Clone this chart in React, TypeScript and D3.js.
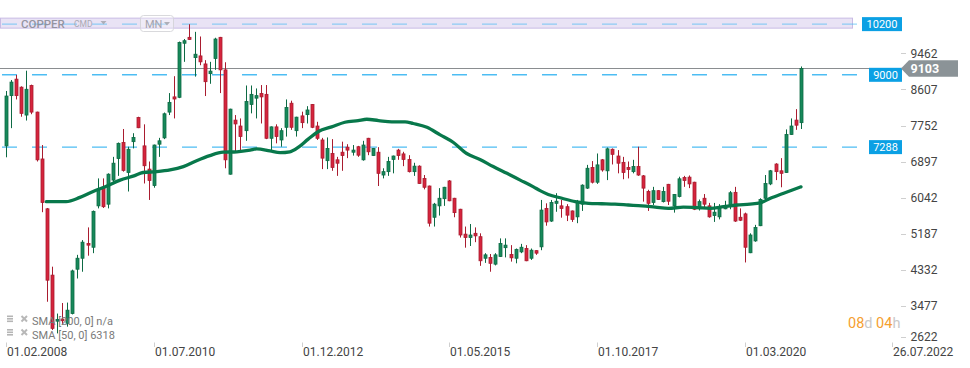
import React from "react";
import * as d3 from "d3";

const W = 970;
const H = 368;

// Monthly candles from Feb 2008 (index 0) to Feb 2021 (index 156)
const startMonth = "2008-02";
const opens = [
  7270, 8460, 8850, 8660, 8000, 8700, 8070, 6960, 5780, 4210,
  3120, 3170, 3070, 3300, 4350, 4610, 4960, 4870, 5850, 6290,
  5890, 6460, 6970, 7350, 6640, 7370, 7940, 7270, 6720, 6330,
  7310, 7460, 8070, 8430, 8420, 9700, 9840, 9360, 9400, 9210,
  8980, 9340, 9840, 9070, 6600, 7880, 7740, 7630, 8250, 8400,
  8510, 8490, 7450, 7720, 7410, 7710, 8280, 7630, 7980, 8010,
  8250, 7740, 7410, 6920, 7090, 6940, 7120, 7240, 7120, 7250,
  6940, 7450, 7040, 7120, 6580, 6660, 6950, 7170, 7080, 6950,
  6660, 6790, 6500, 6320, 5580, 5850, 6020, 6440, 6030, 5770,
  5180, 5100, 5200, 5120, 4610, 4630, 4470, 4650, 4860, 4700,
  4610, 4760, 4840, 4610, 4790, 4880, 5790, 5490, 5910, 5850,
  5830, 5730, 5590, 5890, 6270, 6760, 6410, 6940, 6680, 7190,
  7030, 6880, 6760, 6660, 6780, 6560, 6190, 5930, 6210, 5950,
  6360, 5850, 6070, 6520, 6530, 6410, 5790, 6030, 5850, 5620,
  5590, 5780, 5850, 6170, 5580, 5660, 4740, 5020, 5380, 6030,
  6370, 6840, 6680, 6640, 7540, 7880, 7820,
];
const highs = [
  8570, 8830, 8950, 8680, 9050, 8720, 8080, 7290, 5800, 4410,
  3300, 3550, 3560, 4340, 4690, 5040, 5340, 5740, 6500, 6500,
  6620, 7010, 7350, 7670, 7250, 7570, 7960, 7780, 6900, 7300,
  7460, 8060, 8520, 8920, 9740, 9800, 10150, 9970, 9860, 9300,
  9260, 9830, 9850, 9250, 8150, 8000, 7920, 8700, 8700, 8630,
  8710, 8710, 7730, 7780, 7690, 8370, 8340, 7960, 8080, 8210,
  8260, 7840, 7460, 7470, 7430, 7010, 7370, 7310, 7290, 7270,
  7390, 7460, 7220, 7240, 6740, 7010, 7040, 7200, 7130, 7050,
  6870, 6810, 6580, 6330, 5920, 6270, 6300, 6460, 6040, 5780,
  5360, 5420, 5340, 5200, 4730, 4710, 4730, 5080, 5080, 4920,
  4840, 4950, 4920, 4840, 4800, 5990, 5910, 5990, 6150, 5990,
  5890, 5740, 5990, 6360, 6820, 6910, 7090, 6960, 7230, 7210,
  7170, 7010, 6900, 6940, 7250, 6580, 6230, 6300, 6220, 6300,
  6370, 6130, 6540, 6560, 6570, 6420, 6000, 6130, 5920, 5920,
  5890, 5970, 6200, 6300, 5790, 5690, 5200, 5400, 6030, 6580,
  6700, 6860, 6980, 7660, 7920, 8140, 9150,
];
const lows = [
  7000, 7690, 8370, 7960, 7870, 8020, 6900, 5700, 3580, 2910,
  2830, 3030, 2990, 3280, 4130, 4290, 4670, 4730, 5790, 5800,
  5790, 6380, 6560, 6660, 6190, 7210, 7690, 6380, 5990, 6280,
  7010, 7430, 8000, 7920, 8400, 9260, 9780, 8910, 9180, 8450,
  8740, 9070, 8520, 6740, 6590, 7130, 7120, 7390, 8040, 7920,
  7800, 7430, 7170, 7330, 7250, 7490, 7650, 7490, 7690, 7800,
  7690, 7410, 6720, 6720, 6680, 6560, 6680, 6980, 7040, 7010,
  6920, 7050, 7030, 6320, 6500, 6560, 6620, 6940, 6790, 6640,
  6560, 6370, 6240, 5360, 5360, 5620, 5850, 5960, 5580, 5100,
  4860, 4900, 4990, 4430, 4500, 4290, 4440, 4640, 4630, 4530,
  4490, 4730, 4540, 4570, 4690, 4800, 5380, 5470, 5710, 5570,
  5490, 5470, 5440, 5730, 6250, 6380, 6370, 6660, 6460, 6830,
  6620, 6480, 6500, 6620, 6560, 5950, 5730, 5870, 5990, 5930,
  5870, 5690, 6050, 6300, 6270, 5750, 5740, 5810, 5570, 5470,
  5530, 5770, 5770, 5470, 5490, 4510, 4730, 5000, 5370, 6010,
  6340, 6460, 6290, 6630, 7530, 7650, 7670,
];
const closes = [
  8450, 8780, 8460, 8040, 8610, 8070, 6940, 5930, 4090, 2950,
  3160, 3130, 3380, 4310, 4610, 4990, 4920, 5720, 6240, 5830,
  6600, 6860, 7330, 6690, 7190, 7470, 7700, 6800, 6450, 7290,
  7390, 8030, 8300, 8380, 9720, 9760, 9790, 9440, 9260, 8790,
  9040, 9800, 9070, 6940, 8140, 7790, 7490, 8320, 8490, 8460,
  8430, 7450, 7720, 7490, 7630, 8180, 7710, 7950, 7820, 8120,
  7710, 7450, 6980, 7210, 6760, 6860, 7040, 7170, 7170, 7050,
  7290, 7130, 7210, 6620, 6660, 6900, 7030, 7040, 6950, 6660,
  6790, 6380, 6290, 5440, 5890, 6030, 6290, 5970, 5690, 5160,
  5100, 5160, 5140, 4550, 4690, 4490, 4690, 4960, 4920, 4620,
  4820, 4870, 4550, 4800, 4730, 5750, 5470, 5930, 5960, 5790,
  5630, 5530, 5930, 6340, 6740, 6410, 6820, 6700, 7200, 7070,
  6860, 6640, 6710, 6780, 6580, 6270, 5910, 6210, 6000, 6190,
  5960, 6120, 6490, 6450, 6370, 5770, 5950, 5890, 5590, 5700,
  5790, 5850, 6160, 5490, 5510, 4870, 5160, 5340, 6000, 6380,
  6680, 6660, 6620, 7540, 7740, 7760, 9103,
];

// SMA(50): month offset from Feb 2008, value
const smaMonth = [
  7.9, 11.8, 14.5, 17.1, 19.8, 22.4, 25.1, 26.9, 29.6, 32.2,
  34.8, 37.4, 40.0, 42.6, 45.3, 47.9, 49.2, 51.8, 53.8, 55.7,
  57.4, 59.3, 61.3, 63.9, 66.5, 69.1, 70.8, 73.1, 75.7, 78.3,
  79.9, 82.6, 85.2, 87.8, 90.4, 93.0, 95.6, 98.3, 100.9, 103.5,
  104.8, 106.4, 109.1, 111.7, 114.3, 116.9, 119.5, 122.1, 124.8, 127.4,
  130.0, 132.9, 135.6, 138.2, 140.8, 143.4, 146.0, 148.0, 150.0, 152.6,
  156.0,
];
const smaValue = [
  5950, 5950, 6050, 6190, 6320, 6460, 6560, 6640, 6660, 6700,
  6780, 6920, 7040, 7120, 7130, 7170, 7200, 7150, 7110, 7130,
  7240, 7430, 7610, 7720, 7830, 7870, 7900, 7870, 7840, 7840,
  7800, 7710, 7530, 7350, 7090, 6950, 6780, 6620, 6460, 6300,
  6210, 6120, 6030, 5950, 5910, 5900, 5890, 5870, 5850, 5820,
  5790, 5820, 5810, 5790, 5830, 5870, 5890, 5920, 6030, 6150,
  6300,
];

const yTicks = [9462, 8607, 7752, 6897, 6042, 5187, 4332, 3477, 2622];
const xTickMonths = [0, 29, 58, 87, 116, 145, 173.82];
const xTickLabels = ["01.02.2008", "01.07.2010", "01.12.2012", "01.05.2015", "01.10.2017", "01.03.2020", "26.07.2022"];
const levels = [10200, 9000, 7288];
const levelLabels = ["10200", "9000", "7288"];
const lastPrice = 9103;
const smaLegend = ["SMA [200, 0] n/a", "SMA [50, 0] 6318"];
const symbol = "COPPER";
const symbolType = "CMD";
const timeframe = "MN";

const GREEN = "#17895a";
const GREEN_D = "#0d6a44";
const RED = "#d6243d";
const RED_D = "#a91c2f";
const BLUE = "#0ba0e4";
const DASH = "#43b9f2";
const FONT = "Roboto, 'Open Sans', sans-serif";

export default function App() {
  const x = d3.scaleLinear().domain([0, 173.82]).range([6, 891.8]);
  const y = d3.scaleLinear().domain([2622, 9462]).range([342.2, 53.3]);

  const candles = opens.map((o, i) => ({
    i,
    o,
    h: highs[i],
    l: lows[i],
    c: closes[i],
    date: d3.utcMonth.offset(d3.utcParse("%Y-%m")(startMonth) as Date, i),
  }));

  const smaPts: [number, number][] = smaMonth.map((m, k) => [m, smaValue[k]]);
  const smaLine = d3
    .line<[number, number]>()
    .x((d) => x(d[0]))
    .y((d) => y(d[1]))
    .curve(d3.curveMonotoneX);

  const levelY = (v: number) => y(v) + 2;
  const lastY = Math.round(y(lastPrice)) + 0.5;

  return (
    <div style={{ position: "absolute", left: 0, top: 0, width: W, height: H, background: "#fff" }}>
      <svg width={W} height={H} style={{ display: "block", fontFamily: FONT }}>
        <rect x={0} y={0} width={W} height={H} fill="#ffffff" />

        {/* purple zone around 10200 */}
        <rect x={0.5} y={levelY(levels[0]) - 6} width={852} height={10} fill="#e9e3f5" stroke="#c8bbe4" strokeWidth={1} />

        {/* last price line */}
        <line x1={0} x2={902} y1={lastY} y2={lastY} stroke="#8a8d90" strokeWidth={1} />

        {/* level dashed lines */}
        {levels.map((v, k) => {
          const ly = levelY(v);
          return (
            <line
              key={"lv" + k}
              x1={2}
              x2={k === 0 ? 858 : 866}
              y1={ly}
              y2={ly}
              stroke={DASH}
              strokeOpacity={k === 0 ? 0.55 : 0.95}
              strokeWidth={1.4}
              strokeDasharray="15 15"
            />
          );
        })}

        {/* header overlay */}
        <g opacity={0.88}>
          <text x={21} y={27.5} fontSize={11.5} fill="#8a8a96" fontWeight={500}>{symbol}</text>
          <text x={74} y={27} fontSize={8.5} fill="#a2a2ac">{symbolType}</text>
          <path d="M100.5,21 L106.5,21 L103.5,24.5 Z" fill="#a8a8b0" />
          <rect x={140.5} y={15.5} width={33} height={16} rx={3} fill="#ffffff" fillOpacity={0.35} stroke="#d4d4d8" />
          <text x={145} y={27.5} fontSize={11} fill="#9a9aa4">{timeframe}</text>
          <path d="M164,22 L170,22 L167,25.5 Z" fill="#a8a8b0" />
        </g>

        {/* candles */}
        <g>
          {candles.map((d) => {
            const cx = Math.round(x(d.i));
            const up = d.c >= d.o;
            const top = y(Math.max(d.o, d.c));
            const bot = y(Math.min(d.o, d.c));
            const bh = Math.max(1.2, bot - top);
            return (
              <g key={d.i}>
                <line
                  x1={cx + 0.5}
                  x2={cx + 0.5}
                  y1={y(d.h)}
                  y2={y(d.l)}
                  stroke={up ? GREEN_D : RED_D}
                  strokeWidth={1}
                />
                <rect
                  x={cx - 1}
                  y={top}
                  width={3}
                  height={bh}
                  fill={up ? GREEN : RED}
                  stroke={up ? GREEN_D : RED_D}
                  strokeWidth={0.8}
                />
              </g>
            );
          })}
        </g>

        {/* SMA 50 */}
        <path d={smaLine(smaPts) || ""} fill="none" stroke="#08784b" strokeWidth={3.3} strokeLinejoin="round" strokeLinecap="round" />

        {/* level label boxes */}
        {levels.map((v, k) => {
          const ly = levelY(v);
          const bx = k === 0 ? 862 : 869;
          const bw = 902 - bx;
          return (
            <g key={"lb" + k}>
              <rect x={bx} y={ly - 7} width={bw} height={14} fill={BLUE} />
              <text x={bx + bw / 2} y={ly} dy="0.36em" textAnchor="middle" fontSize={11} fill="#ffffff">
                {levelLabels[k]}
              </text>
            </g>
          );
        })}

        {/* right axis */}
        {yTicks.map((t) => {
          const ty = Math.min(y(t), 337);
          return (
            <g key={"yt" + t}>
              <line x1={901} x2={906} y1={Math.round(ty) + 0.5} y2={Math.round(ty) + 0.5} stroke="#cfcfcf" />
              <text x={910.5} y={ty} dy="0.36em" fontSize={12} fill="#444">
                {t}
              </text>
            </g>
          );
        })}

        {/* last price tag */}
        <path
          d={`M901,${lastY} L909,${lastY - 8.2} L958,${lastY - 8.2} L958,${lastY + 8.2} L909,${lastY + 8.2} Z`}
          fill="#8b9397"
        />
        <text x={910.5} y={lastY} dy="0.36em" fontSize={12.5} fontWeight={700} fill="#ffffff">
          {lastPrice}
        </text>

        {/* bottom axis */}
        {xTickMonths.map((m, k) => {
          const tx = Math.round(x(m)) + 0.5;
          return (
            <g key={"xt" + k}>
              <line x1={tx} x2={tx} y1={342.5} y2={347} stroke="#cfcfcf" />
              <text x={tx + 0.5} y={355.5} fontSize={12} fill="#444">
                {xTickLabels[k]}
              </text>
            </g>
          );
        })}

        {/* indicator legend */}
        {smaLegend.map((s, k) => {
          const cy = 320 + k * 13.5;
          return (
            <g key={"lg" + k}>
              <rect x={7} y={cy - 4.5} width={6} height={1.6} fill="#b5b5b5" />
              <rect x={7} y={cy - 2} width={6} height={1.6} fill="#b5b5b5" />
              <rect x={7} y={cy + 0.5} width={6} height={1.6} fill="#b5b5b5" />
              <line x1={21.5} y1={cy - 4} x2={27} y2={cy + 1.5} stroke="#b8b8b8" strokeWidth={2} />
              <line x1={21.5} y1={cy + 1.5} x2={27} y2={cy - 4} stroke="#b8b8b8" strokeWidth={2} />
              <text x={32} y={cy + 1.5} dy="0.36em" fontSize={11} fill="#7a7a7a">
                {s}
              </text>
            </g>
          );
        })}

        {/* countdown */}
        <text x={848} y={322.7} dy="0.36em" fontSize={14.5}>
          <tspan fill="#f5a030">08</tspan>
          <tspan fill="#c9c9c9">d</tspan>
          <tspan fill="#f5a030"> 04</tspan>
          <tspan fill="#c9c9c9">h</tspan>
        </text>
      </svg>
    </div>
  );
}
